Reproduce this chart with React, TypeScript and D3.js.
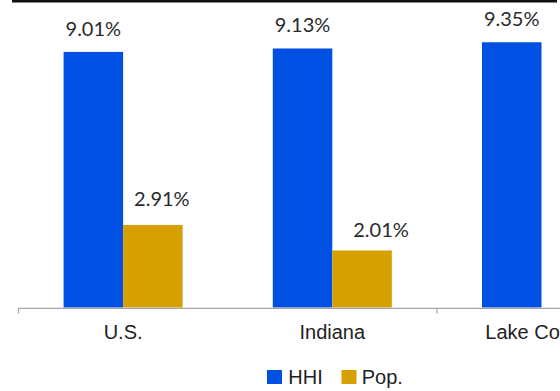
import React from "react";
import * as d3 from "d3";

const categories = ["U.S.", "Indiana", "Lake County"];
const seriesNames = ["HHI", "Pop."];
const hhiValues = [9.01, 9.13, 9.35];
const popValues: (number | null)[] = [2.91, 2.01, null];
const colors = ["#0050e3", "#d5a000"];
// manual label nudges (dx, extra dy) for the Pop. labels, as in the original
const popLabelNudge = [
  [9, -3],
  [19, 2.5],
  [0, 0],
];

const W = 560;
const H = 391;

export default function App() {
  const x0 = d3
    .scaleBand<string>()
    .domain(categories)
    .range([18.5, 18.5 + 3 * 209.2])
    .paddingInner(0)
    .paddingOuter(0);
  const bw = x0.bandwidth();
  const groupW = bw * 0.569;
  const x1 = d3
    .scaleBand<string>()
    .domain(seriesNames)
    .range([(bw - groupW) / 2, (bw + groupW) / 2])
    .padding(0);
  const y = d3.scaleLinear().domain([0, 10]).range([307.5, 307.5 - 283.7]);
  const fmt = (v: number) => d3.format(".2f")(v) + "%";

  const series = [hhiValues, popValues];
  const ticks = [0, 2].map((i) => (x0.range()[0] as number) + i * x0.step());

  return (
    <svg
      width={W}
      height={H}
      style={{ position: "absolute", left: 0, top: 0, background: "#fff" }}
    >
      <rect x={0} y={0} width={W} height={H} fill="#fff" />
      <rect x={12} y={0} width={545} height={2.5} fill="#111" />
      {categories.map((c, ci) => (
        <g key={c} transform={`translate(${x0(c)},0)`}>
          {series.map((vals, si) => {
            const v = vals[ci];
            if (v == null) return null;
            const bx = x1(seriesNames[si])!;
            const w = x1.bandwidth();
            const top = y(v);
            const nudge = si === 1 ? popLabelNudge[ci] : [0, 0];
            return (
              <g key={si}>
                <rect
                  x={bx}
                  y={top}
                  width={w}
                  height={y(0) - top}
                  fill={colors[si]}
                />
                <text
                  x={bx + w / 2 + nudge[0]}
                  y={top - 16 + nudge[1]}
                  textAnchor="middle"
                  fontFamily="Lato, 'Open Sans', sans-serif"
                  fontSize={20}
                  fill="#2a2a2a"
                >
                  {fmt(v)}
                </text>
              </g>
            );
          })}
          <text
            x={bw / 2}
            y={339}
            textAnchor="middle"
            fontFamily="'Liberation Sans', Arial, sans-serif"
            fontSize={20}
            fill="#222"
          >
            {c}
          </text>
        </g>
      ))}
      <line
        x1={18.3}
        x2={W}
        y1={308.3}
        y2={308.3}
        stroke="#a6a6a6"
        strokeWidth={1.3}
      />
      {ticks.map((t, i) => (
        <line
          key={i}
          x1={t}
          x2={t}
          y1={308.3}
          y2={313.5}
          stroke="#a6a6a6"
          strokeWidth={1.2}
        />
      ))}
      <g fontFamily="'Liberation Sans', Arial, sans-serif" fontSize={20} fill="#222">
        <rect x={267} y={370} width={15} height={14} fill={colors[0]} />
        <text x={288.3} y={384}>
          {seriesNames[0]}
        </text>
        <rect x={341.5} y={370} width={15} height={14} fill={colors[1]} />
        <text x={361.7} y={384}>
          {seriesNames[1]}
        </text>
      </g>
    </svg>
  );
}
